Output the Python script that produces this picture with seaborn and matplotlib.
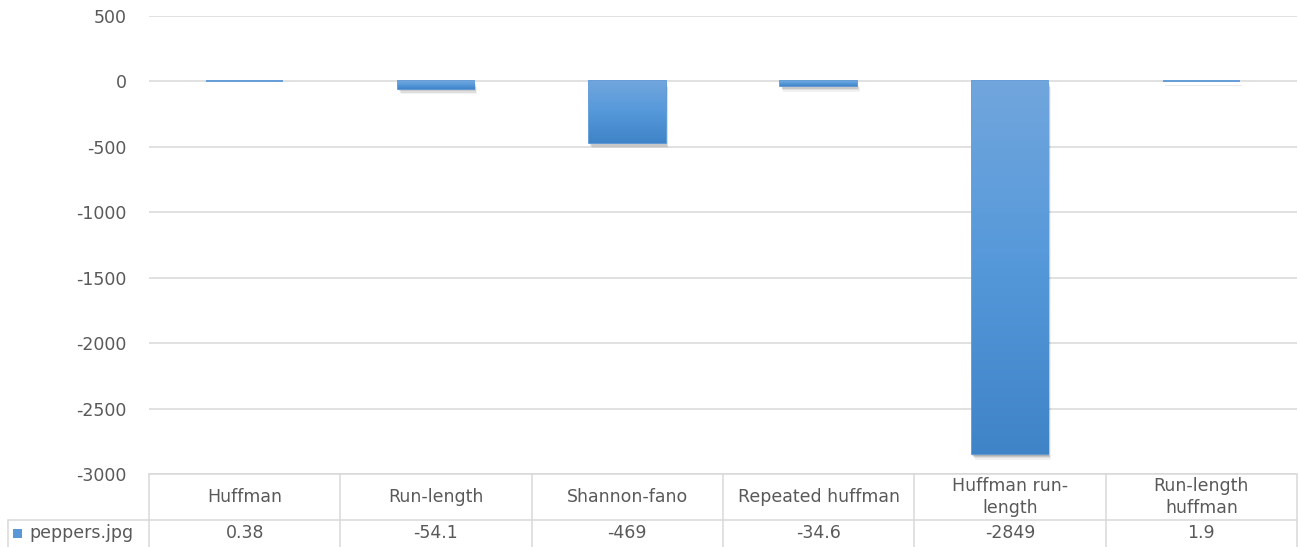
import os
import numpy as np
import pandas as pd
import matplotlib
matplotlib.use("Agg")
import matplotlib.pyplot as plt
import matplotlib.patheffects as pe
from matplotlib import font_manager
from matplotlib.transforms import blended_transform_factory
from matplotlib.colors import LinearSegmentedColormap
import seaborn as sns

# Data
methods = ["Huffman", "Run-length", "Shannon-fano", "Repeated huffman",
           "Huffman run-\nlength", "Run-length\nhuffman"]
value_labels = ["0.38", "-54.1", "-469", "-34.6", "-2849", "1.9"]
values = [0.38, -54.1, -469, -34.6, -2849, 1.9]
series_name = "peppers.jpg"
y_ticks = [500, 0, -500, -1000, -1500, -2000, -2500, -3000]

df = pd.DataFrame({"method": methods, "value": values})

sns.set_theme(style="white")

# Use the DejaVu Sans file shipped with matplotlib directly
font_path = os.path.join(matplotlib.get_data_path(), "fonts", "ttf", "DejaVuSans.ttf")
font_manager.fontManager.addfont(font_path)
FS = 12.5
fp = font_manager.FontProperties(fname=font_path, size=FS)
plt.rcParams["font.family"] = ["DejaVu Sans"]

W, H = 1298, 547
fig = plt.figure(figsize=(W / 100, H / 100), dpi=100)
ax = fig.add_axes([149 / W, 1 - 474 / H, (1297 - 149) / W, (474 - 16) / H])

text_color = "#595959"
grid_color = "#d9d9d9"
base_blue = "#5a97d6"

sns.barplot(data=df, x="method", y="value", color=base_blue, width=0.4,
            ax=ax, zorder=3, saturation=1)

ax.set_ylim(-3000, 500)
ax.set_xlim(-0.5, len(methods) - 0.5)
ax.set_yticks(y_ticks)
ax.set_yticklabels([str(t) for t in y_ticks], fontproperties=fp, color=text_color)
ax.set_xticks([])
ax.set_xlabel("")
ax.set_ylabel("")
for s in ax.spines.values():
    s.set_visible(False)
ax.yaxis.grid(True, color=grid_color, linewidth=1.1, zorder=0)
ax.tick_params(axis="y", length=0, pad=16)

# Gradient fill with a soft shadow for each bar
cmap = LinearSegmentedColormap.from_list("barfade", ["#71a6dd", "#5598da", "#3f84c7"])
grad = np.linspace(0, 1, 256).reshape(-1, 1)
for patch in ax.patches:
    x0, y0 = patch.get_x(), patch.get_y()
    w, h = patch.get_width(), patch.get_height()
    top, bottom = max(y0, y0 + h), min(y0, y0 + h)
    patch.set_facecolor(base_blue)
    patch.set_edgecolor(base_blue)
    patch.set_linewidth(1.3)
    patch.set_path_effects([
        pe.SimplePatchShadow(offset=(2.0, -4.0), shadow_rgbFace="#000000", alpha=0.05),
        pe.SimplePatchShadow(offset=(1.5, -3.0), shadow_rgbFace="#000000", alpha=0.08),
        pe.SimplePatchShadow(offset=(1.0, -2.0), shadow_rgbFace="#000000", alpha=0.10),
        pe.SimplePatchShadow(offset=(0.5, -1.0), shadow_rgbFace="#000000", alpha=0.12),
        pe.Normal(),
    ])
    if abs(h) > 20:
        im = ax.imshow(grad, cmap=cmap, aspect="auto", origin="upper",
                       extent=(x0, x0 + w, bottom, top), zorder=4,
                       interpolation="bilinear")
        im.set_clip_path(patch)

ax.set_xlim(-0.5, len(methods) - 0.5)
ax.set_ylim(-3000, 500)

# Data table below the plot
tr = blended_transform_factory(ax.transData, fig.transFigure)
fy = lambda py: 1 - py / H
line_kw = dict(color=grid_color, linewidth=1.1, clip_on=False)
n = len(methods)
# horizontal rules
fig.add_artist(plt.Line2D([-0.5, n - 0.5], [fy(474), fy(474)], transform=tr, **line_kw))
fig.add_artist(plt.Line2D([8 / W, 1297 / W], [fy(520), fy(520)], transform=fig.transFigure, **line_kw))
# vertical rules
for i in range(n + 1):
    fig.add_artist(plt.Line2D([i - 0.5, i - 0.5], [fy(474), fy(547)], transform=tr, **line_kw))
fig.add_artist(plt.Line2D([8 / W, 8 / W], [fy(520), fy(547)], transform=fig.transFigure, **line_kw))

for i, (m, v) in enumerate(zip(methods, value_labels)):
    fig.text(i, fy(497), m, transform=tr, ha="center", va="center", fontproperties=fp,
             color=text_color, linespacing=1.25)
    fig.text(i, fy(533.5), v, transform=tr, ha="center", va="center", fontproperties=fp,
             color=text_color)

# legend key in the first cell
fig.patches.append(plt.Rectangle((13 / W, fy(538)), 9 / W, 9 / H, transform=fig.transFigure,
                                 facecolor=base_blue, edgecolor="none"))
fig.text(29 / W, fy(533.5), series_name, ha="left", va="center", fontproperties=fp,
         color=text_color)

fig.savefig("out.png", dpi=100, facecolor="white")
